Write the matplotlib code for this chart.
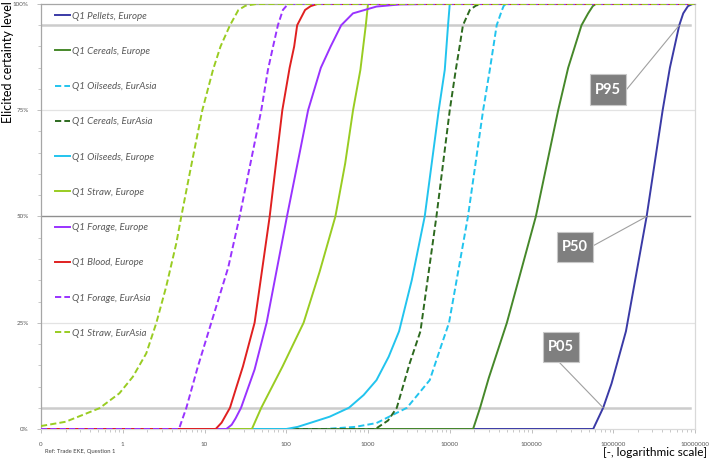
import matplotlib
matplotlib.use("Agg")
import matplotlib.pyplot as plt
from matplotlib.patches import Rectangle
from matplotlib.ticker import FixedLocator, NullFormatter, LogLocator

plt.rcParams["font.family"] = ["Lato", "DejaVu Sans"]

# cumulative curves: value (log x) against elicited certainty (%)
pellets_eu_x = [0.1, 568000, 753000, 953000, 1.43e6, 2.56e6, 4.02e6, 4.93e6, 6.42e6, 7.18e6, 8.2e6, 9.3e6, 1e7]
pellets_eu_p = [0, 0, 5, 10.7, 23, 50, 75, 85, 95, 97.8, 99.5, 100, 100]

cereals_eu_x = [0.1, 19300, 23500, 30000, 50000, 113000, 212000, 281000, 409000, 493000, 562000, 610000, 1e7]
cereals_eu_p = [0, 0, 5, 12, 25, 50, 75, 85, 95, 97.8, 99.5, 100, 100]

oilseeds_ea_x = [0.1, 300, 700, 1270, 3000, 5690, 7800, 9800, 16700, 25600, 30900, 37500, 43400, 45800, 49500, 1e7]
oilseeds_ea_p = [0, 0, 0.5, 1.4, 5, 11.5, 19.4, 25, 50, 75, 84.5, 95, 98.5, 99.6, 100, 100]

cereals_ea_x = [0.1, 1230, 1760, 2250, 3240, 4380, 6870, 10000, 11850, 13200, 14500, 17600, 20800, 24000, 1e7]
cereals_ea_p = [0, 0, 2, 5, 15.5, 23, 50, 75, 84.5, 90, 95, 98.6, 99.6, 100, 100]

oilseeds_eu_x = [0.1, 100, 138, 194, 340, 585, 885, 1270, 1790, 2400, 3430, 4940, 7330, 8690, 9530, 10000, 1e7]
oilseeds_eu_p = [0, 0, 0.5, 1.4, 2.9, 5, 8, 11.5, 17, 23, 35, 50, 75, 84.5, 95, 100, 100]

straw_eu_x = [0.1, 38, 49.5, 90, 163, 256, 399, 526, 656, 807, 940, 1000, 1e7]
straw_eu_p = [0, 0, 5, 14.7, 25, 37, 50, 62.5, 75, 84.5, 95, 100, 100]

forage_eu_x = [0.1, 18.5, 21.5, 24, 28, 41, 57.5, 102, 146, 185, 265, 349, 470, 655, 1270, 2460, 5180, 1e7]
forage_eu_p = [0, 0, 1, 2.5, 5, 14, 25, 50, 65, 75, 85, 90, 95, 97.8, 99.4, 99.9, 100, 100]

blood_eu_x = [0.1, 13.7, 16.2, 20.5, 24.7, 29.5, 41, 62.7, 89.5, 110, 125, 136, 170, 199, 240, 1e7]
blood_eu_p = [0, 0, 1.5, 5, 10, 14.7, 25, 50, 75, 85, 90, 95, 98.6, 99.5, 100, 100]

forage_ea_x = [0.1, 4.87, 6.0, 8.3, 12.1, 19.5, 26.9, 49.5, 59.7, 69, 79, 91, 101, 110, 1e7]
forage_ea_p = [0, 0, 5, 14.7, 25, 38, 50, 75, 84.5, 90, 95, 98.6, 99.6, 100, 100]

straw_ea_x = [0.1, 0.2, 0.52, 0.91, 1.33, 1.94, 2.57, 3.4, 4.52, 5.2, 6.6, 9.4, 12.7, 15.7, 20.5, 26, 31.8, 43, 1e7]
straw_ea_p = [0.7, 1.7, 4.9, 8.4, 12.3, 17.8, 24.9, 33.5, 43.7, 50, 60.2, 75, 84.5, 90, 95, 98.6, 99.6, 100, 100]

series = [
    ("Q1 Pellets, Europe", pellets_eu_x, pellets_eu_p, "#3a3aa6", "-"),
    ("Q1 Cereals, Europe", cereals_eu_x, cereals_eu_p, "#46882a", "-"),
    ("Q1 Oilseeds, EurAsia", oilseeds_ea_x, oilseeds_ea_p, "#22c4ee", "--"),
    ("Q1 Cereals, EurAsia", cereals_ea_x, cereals_ea_p, "#2d6a1f", "--"),
    ("Q1 Oilseeds, Europe", oilseeds_eu_x, oilseeds_eu_p, "#22c4ee", "-"),
    ("Q1 Straw, Europe", straw_eu_x, straw_eu_p, "#99cc22", "-"),
    ("Q1 Forage, Europe", forage_eu_x, forage_eu_p, "#9933ff", "-"),
    ("Q1 Blood, Europe", blood_eu_x, blood_eu_p, "#e02020", "-"),
    ("Q1 Forage, EurAsia", forage_ea_x, forage_ea_p, "#9933ff", "--"),
    ("Q1 Straw, EurAsia", straw_ea_x, straw_ea_p, "#99cc22", "--"),
]

x_ticks = [0.1, 1, 10, 100, 1000, 10000, 100000, 1000000, 10000000]
x_labels = ["0", "1", "10", "100", "1000", "10000", "100000", "1000000", "10000000"]
y_ticks = [0, 25, 50, 75, 100]
y_labels = ["0%", "25%", "50%", "75%", "100%"]

fig = plt.figure(figsize=(7.09, 4.61), dpi=100)
ax = fig.add_axes([41 / 709, 32 / 461, 654 / 709, 425 / 461])

# reference lines
ax.axhline(25, color="#e3e3e3", lw=0.9, zorder=1)
ax.axhline(75, color="#e3e3e3", lw=0.9, zorder=1)
ax.axhline(50, color="#8f8f8f", lw=1.0, xmax=0.992, zorder=1)
ax.axhline(5, color="#cccccc", lw=1.8, xmax=0.992, zorder=1)
ax.axhline(95, color="#cccccc", lw=1.8, xmax=0.992, zorder=1)

for label, xs, ps, color, ls in series:
    ax.plot(xs, ps, color=color, ls=ls, lw=1.4, label=label, zorder=3,
            dashes=(3.2, 1.6) if ls == "--" else (None, None))

ax.set_xscale("log")
ax.set_xlim(0.1, 1e7)
ax.set_ylim(0, 100)
ax.xaxis.set_major_locator(FixedLocator(x_ticks))
ax.set_xticklabels(x_labels)
ax.xaxis.set_minor_locator(LogLocator(base=10, subs=range(2, 10)))
ax.xaxis.set_minor_formatter(NullFormatter())
ax.yaxis.set_major_locator(FixedLocator(y_ticks))
ax.set_yticklabels(y_labels)
ax.yaxis.set_minor_locator(FixedLocator(list(range(0, 101, 5))))

ax.tick_params(axis="both", which="major", labelsize=4.5, labelcolor="#595959",
               color="#bfbfbf", length=3, width=0.7, pad=6)
ax.tick_params(axis="both", which="minor", color="#bfbfbf", length=2, width=0.6)

for side, col in [("left", "#a6a6a6"), ("top", "#a6a6a6"), ("right", "#d9d9d9"), ("bottom", "#d9d9d9")]:
    ax.spines[side].set_color(col)
    ax.spines[side].set_linewidth(0.9)

leg = ax.legend(loc="upper left", bbox_to_anchor=(0.021, 0.982), frameon=False,
                fontsize=7, handlelength=1.55, handletextpad=0.25,
                labelspacing=2.7, borderaxespad=0, borderpad=0)
for t in leg.get_texts():
    t.set_color("#595959")
    t.set_style("italic")

# percentile callouts on the pellets curve (boxes in axes fraction)
callouts = [
    ("P95", 95, (0.8394, 0.7624), (0.8670, 0.7988), (0.8956, 0.7993)),
    ("P50", 50, (0.7890, 0.3929), (0.8165, 0.4282), (0.8445, 0.4313)),
    ("P05", 5, (0.7676, 0.1576), (0.7951, 0.1929), (0.7925, 0.1569)),
]
for name, pct, corner, centre, start in callouts:
    ax.add_patch(Rectangle(corner, 0.0550, 0.0718, transform=ax.transAxes,
                           fc="#7f7f7f", ec="#c8c8c8", lw=0.8, zorder=5))
    ax.text(centre[0], centre[1], name, transform=ax.transAxes, ha="center", va="center",
            fontsize=10.5, fontweight="bold", color="white", zorder=6)
    xv = pellets_eu_x[pellets_eu_p.index(pct)]
    ax.annotate("", xy=(xv, pct), xycoords="data", xytext=start, textcoords="axes fraction",
                arrowprops=dict(arrowstyle="-", color="#a0a0a0", lw=0.8,
                                shrinkA=0, shrinkB=0), zorder=4)

fig.text(0.003, 0.997, "Elicited certainty level", rotation=90, va="top", ha="left",
         fontsize=9, color="#000000")
fig.text(0.997, 0.006, "[-, logarithmic scale]", ha="right", va="bottom", fontsize=8.5,
         color="#000000")
fig.text(0.063, 0.015, "Ref: Trade EKE, Question 1", ha="left", va="bottom", fontsize=4.2,
         color="#404040")

fig.savefig("out.png", dpi=100)
